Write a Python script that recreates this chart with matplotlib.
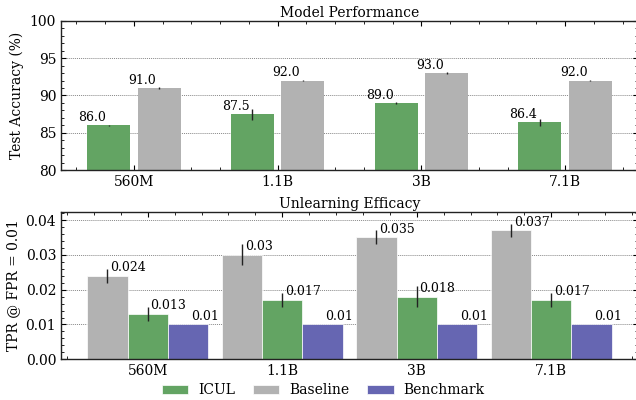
import numpy as np
import matplotlib
matplotlib.use('Agg')
import matplotlib.pyplot as plt
from matplotlib.ticker import MultipleLocator

plt.rcParams['font.family'] = 'DejaVu Serif'
plt.rcParams['font.size'] = 10

models = ['560M', '1.1B', '3B', '7.1B']

# test accuracy (%)
acc_icul = [86.0, 87.5, 89.0, 86.4]
acc_icul_err = [0.1, 0.75, 0.1, 0.5]
acc_base = [91.0, 92.0, 93.0, 92.0]
acc_base_err = [0.1, 0.1, 0.1, 0.1]

# TPR @ FPR = 0.01
tpr_base = [0.024, 0.03, 0.035, 0.037]
tpr_base_err = [0.002, 0.003, 0.002, 0.002]
tpr_icul = [0.013, 0.017, 0.018, 0.017]
tpr_icul_err = [0.002, 0.002, 0.003, 0.002]
tpr_bench = [0.01, 0.01, 0.01, 0.01]

c_icul = '#63a463'
c_base = '#b2b2b2'
c_bench = '#6666b2'


def style_ax(ax):
    ax.tick_params(which='both', direction='in', top=True, right=True)
    ax.tick_params(which='major', length=3.5, width=0.8)
    ax.tick_params(which='minor', length=2, width=0.6)
    ax.xaxis.set_minor_locator(MultipleLocator(0.2))
    ax.grid(axis='y', linestyle=(0, (1, 1)), color='#888888', linewidth=0.7)
    ax.set_axisbelow(True)
    for s in ax.spines.values():
        s.set_linewidth(1.0)
        s.set_color('#222222')


fig = plt.figure(figsize=(6.36, 4.0), dpi=100)
ax1 = fig.add_axes([61 / 636, 0.575, 577 / 636, 0.3725])
ax2 = fig.add_axes([61 / 636, 0.1018, 577 / 636, 0.3690])

x = np.arange(len(models))
w = 0.3

# --- top: model performance
ax1.bar(x - 0.175, acc_icul, w, color=c_icul, yerr=acc_icul_err,
        error_kw=dict(elinewidth=1.0, ecolor='#222222'))
ax1.bar(x + 0.175, acc_base, w, color=c_base, yerr=acc_base_err,
        error_kw=dict(elinewidth=1.0, ecolor='#222222'))
for xi, v in zip(x - 0.175, acc_icul):
    ax1.annotate(f'{v:.1f}', (xi, v), xytext=(-2, 3), textcoords='offset points',
                 ha='right', va='baseline', fontsize=9)
for xi, v in zip(x + 0.175, acc_base):
    ax1.annotate(f'{v:.1f}', (xi, v), xytext=(-2, 3), textcoords='offset points',
                 ha='right', va='baseline', fontsize=9)
ax1.set_ylim(80, 100)
ax1.yaxis.set_major_locator(MultipleLocator(5))
ax1.yaxis.set_minor_locator(MultipleLocator(1))
ax1.set_xticks(x)
ax1.set_xticklabels(models)
ax1.set_ylabel('Test Accuracy (%)')
ax1.set_title('Model Performance', fontsize=10, pad=3)
style_ax(ax1)

# --- bottom: unlearning efficacy
ekw = dict(elinewidth=1.0, ecolor='#222222')
ax2.bar(x - w, tpr_base, w, color=c_base, yerr=tpr_base_err, error_kw=ekw,
        edgecolor='white', linewidth=0.5, label='Baseline')
ax2.bar(x, tpr_icul, w, color=c_icul, yerr=tpr_icul_err, error_kw=ekw,
        edgecolor='white', linewidth=0.5, label='ICUL')
ax2.bar(x + w, tpr_bench, w, color=c_bench,
        edgecolor='white', linewidth=0.5, label='Benchmark')
for off, vals in [(-w, tpr_base), (0, tpr_icul), (w, tpr_bench)]:
    for xi, v in zip(x + off, vals):
        ax2.annotate(f'{v:g}', (xi, v), xytext=(2, 3.5), textcoords='offset points',
                     ha='left', va='baseline', fontsize=9)
ax2.set_ylim(0, 0.0424)
ax2.yaxis.set_major_locator(MultipleLocator(0.01))
ax2.yaxis.set_minor_locator(MultipleLocator(0.002))
ax2.yaxis.set_major_formatter(matplotlib.ticker.FormatStrFormatter('%.2f'))
ax2.set_xticks(x)
ax2.set_xticklabels(models)
ax2.set_ylabel('TPR @ FPR = 0.01')
ax2.set_title('Unlearning Efficacy', fontsize=10, pad=3)
style_ax(ax2)

h, l = ax2.get_legend_handles_labels()
order = [1, 0, 2]
fig.legend([h[i] for i in order], [l[i] for i in order], loc='lower center',
           ncol=3, frameon=False, bbox_to_anchor=(0.508, -0.025),
           handlelength=1.9, handleheight=0.6, handletextpad=0.7,
           columnspacing=1.3, fontsize=10)

fig.savefig('out.png', dpi=100)
